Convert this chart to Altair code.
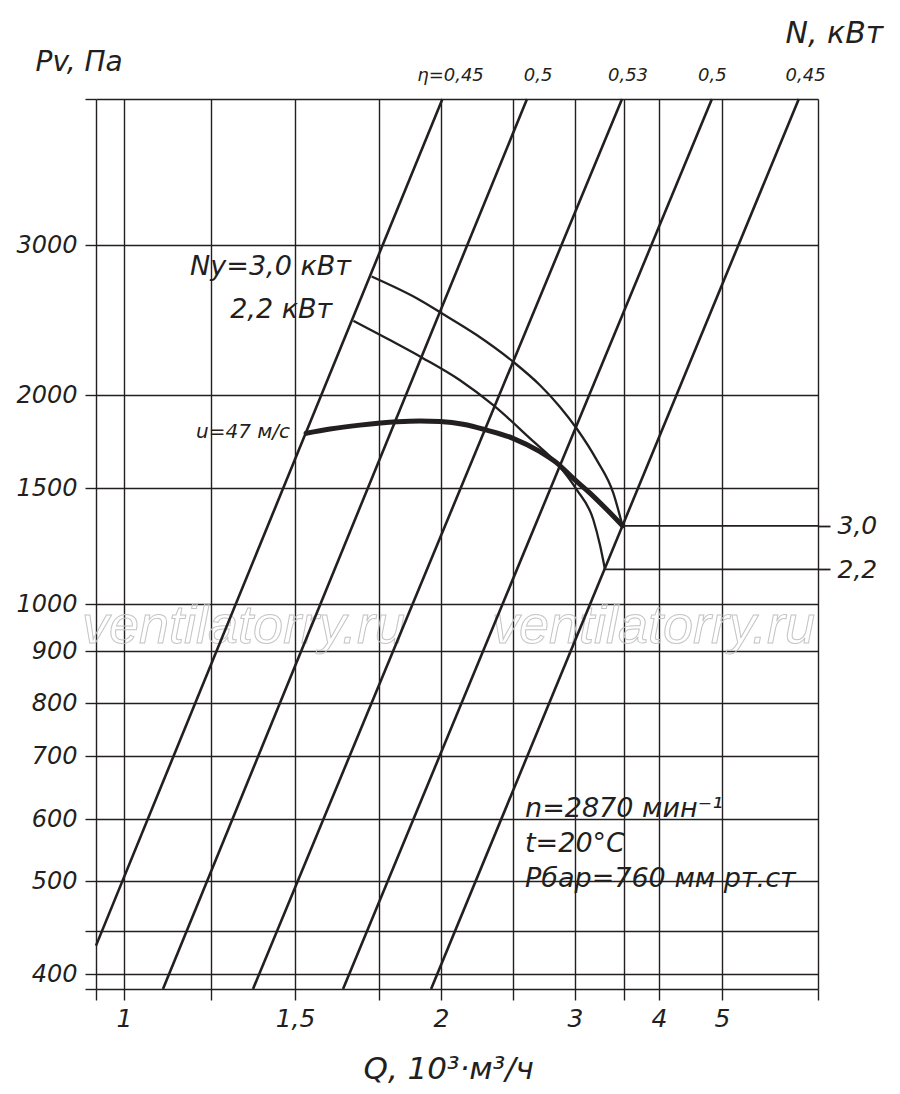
import json
import altair as alt
import pandas as pd

INK = "#231f20"
FONT = "DejaVu Sans"

# ---------------- grid / axis values of the nomogram ----------------
q_grid = [0.9, 1, 1.25, 1.5, 1.75, 2, 2.5, 3, 3.5, 4, 5, 6]
q_labelled = [1, 1.5, 2, 3, 4, 5]
pv_grid = [385, 400, 450, 500, 600, 700, 800, 900, 1000, 1500, 2000, 3000, 4000]
pv_labelled = [400, 500, 600, 700, 800, 900, 1000, 1500, 2000, 3000]

# ---------------- efficiency rays (η) ----------------
eta_q_low = [0.9, 1.112, 1.375, 1.643, 1.96]
eta_pv_low = [433, 385, 385, 385, 385]
eta_q_high = [2.01, 2.613, 3.48, 4.84, 5.80]
eta_pv_high = [4000, 4000, 4000, 4000, 4000]
eta_names = ["η=0,45", "0,5", "0,53", "0,5", "0,45"]
eta_name_q = [2.0625, 2.698, 3.55, 4.84, 5.865]

# ---------------- pressure curve u=47 m/s ----------------
pv_curve_q = [1.533, 1.604, 1.693, 1.823, 1.915, 1.996, 2.153, 2.319, 2.5,
              2.718, 2.855, 2.984, 3.153, 3.327, 3.485]
pv_curve_pv = [1794, 1817, 1838, 1856, 1860, 1857, 1843, 1811, 1767,
               1695, 1634, 1553, 1478, 1406, 1337]

# ---------------- motor power curves ----------------
n30_q = [1.728, 1.808, 1.902, 2.005, 2.248, 2.502, 2.718, 2.879, 3.017, 3.221, 3.391, 3.485]
n30_pv = [2790, 2723, 2645, 2545, 2400, 2221, 2065, 1936, 1820, 1651, 1478, 1337]
n22_q = [1.674, 1.786, 1.929, 2.132, 2.363, 2.637, 2.865, 3.017, 3.187, 3.255, 3.306]
n22_pv = [2495, 2373, 2244, 2098, 1945, 1767, 1624, 1493, 1363, 1254, 1149]

# horizontal leaders to the N scale
n_levels = ["3,0", "2,2"]
n_rule_q_start = [3.485, 3.306]
n_rule_q_end = [6, 6]
n_rule_pv = [1337, 1149]

# ---------------- annotations ----------------
note_text = ["Ny=3,0 кВт", "2,2 кВт", "u=47 м/с", "n=2870 мин⁻¹", "t=20°C", "Рбар=760 мм рт.ст"]
note_q = [1.19, 1.307, 1.207, 2.597, 2.597, 2.597]
note_pv = [2801, 2513, 1769, 603, 546, 494]
note_size = [27, 27, 20, 27, 27, 27]

wm_text = ["ventilatorry.ru", "ventilatorry.ru"]
wm_q = [0.85, 2.354]
wm_pv = [918, 918]

# ---------------- scales (non-uniform printed grid, piecewise) ----------------
x_scale = alt.Scale(domain=q_grid,
                    range=[0, 28, 115, 199, 283, 345, 417, 479, 528, 563, 626, 722],
                    nice=False, zero=False)
y_scale = alt.Scale(domain=pv_grid,
                    range=[890, 875, 832, 782, 720, 657, 604, 552, 505, 389, 296, 146, 0],
                    nice=False, zero=False)

eta_df = pd.DataFrame({"q1": eta_q_low, "p1": eta_pv_low, "q2": eta_q_high, "p2": eta_pv_high})
curve_df = pd.DataFrame({"q": pv_curve_q, "pv": pv_curve_pv})
n_df = pd.concat([
    pd.DataFrame({"q": n30_q, "pv": n30_pv, "n": "3,0"}),
    pd.DataFrame({"q": n22_q, "pv": n22_pv, "n": "2,2"}),
])
nrule_df = pd.DataFrame({"n": n_levels, "q1": n_rule_q_start, "q2": n_rule_q_end, "pv": n_rule_pv})
note_df = pd.DataFrame({"t": note_text, "q": note_q, "pv": note_pv, "fs": note_size})
wm_df = pd.DataFrame({"t": wm_text, "q": wm_q, "pv": wm_pv})

q_label_expr = (f"indexof({json.dumps(q_labelled)}, datum.value) >= 0 ? "
                "replace(toString(datum.value), '.', ',') : ''")
pv_label_expr = (f"indexof({json.dumps(pv_labelled)}, datum.value) >= 0 ? "
                 "toString(datum.value) : ''")
eta_label_expr = (f"{json.dumps(eta_names, ensure_ascii=False)}"
                  f"[indexof({json.dumps(eta_name_q)}, datum.value)]")

common_axis = dict(labelFont=FONT, labelFontStyle="italic", labelColor=INK,
                   labelOverlap=False, labelFlush=False, labelBound=False,
                   titleFont=FONT, titleFontStyle="italic", titleFontWeight="normal",
                   titleColor=INK)

x_bottom = alt.Axis(orient="bottom", values=q_grid, grid=True, gridColor=INK, gridWidth=1.4,
                    gridOpacity=1, domain=False, ticks=True, tickSize=11, tickColor=INK,
                    tickWidth=1.4, labelExpr=q_label_expr, labelFontSize=25, labelPadding=6,
                    title="Q, 10³·м³/ч", titleFontSize=31, titleX=267, titleY=89,
                    titleAlign="left", titleBaseline="alphabetic", **common_axis)
y_left = alt.Axis(orient="left", values=pv_grid, grid=True, gridColor=INK, gridWidth=1.4,
                  gridOpacity=1, domain=False, ticks=True, tickSize=11, tickColor=INK,
                  tickWidth=1.4, labelExpr=pv_label_expr, labelFontSize=24, labelPadding=8,
                  title="Pv, Па", titleFontSize=28, titleAngle=0, titleX=-61, titleY=-29,
                  titleAlign="left", titleBaseline="alphabetic", **common_axis)
x_top = alt.Axis(orient="top", values=eta_name_q, grid=False, domain=False, ticks=False,
                 labelExpr=eta_label_expr, labelFontSize=18, labelPadding=19,
                 labelBaseline="alphabetic", title=None, **common_axis)
y_right = alt.Axis(orient="right", values=n_rule_pv, grid=False, domain=False, ticks=True,
                   tickSize=12, tickColor=INK, tickWidth=1.8,
                   labelExpr="datum.value > 1250 ? '3,0' : '2,2'", labelFontSize=25,
                   labelPadding=7, title="N, кВт", titleFontSize=30, titleAngle=0,
                   titleX=-33, titleY=-57, titleAlign="left", titleBaseline="alphabetic",
                   **common_axis)

watermark = alt.Chart(wm_df).mark_text(
    font="Liberation Sans", fontSize=54, fontStyle="italic", align="left",
    baseline="alphabetic", stroke="#c4c4c4", strokeWidth=1, fillOpacity=0
).encode(x=alt.X("q:Q", scale=x_scale, axis=None), y=alt.Y("pv:Q", scale=y_scale, axis=None),
         text="t:N")

eta_rules = alt.Chart(eta_df).mark_rule(color=INK, strokeWidth=2.6).encode(
    x=alt.X("q1:Q", scale=x_scale, axis=x_bottom),
    x2="q2:Q",
    y=alt.Y("p1:Q", scale=y_scale, axis=y_left),
    y2="p2:Q",
)

n_rules = alt.Chart(nrule_df).mark_rule(color=INK, strokeWidth=1.8).encode(
    x=alt.X("q1:Q", scale=x_scale, axis=None),
    x2="q2:Q",
    y=alt.Y("pv:Q", scale=y_scale, axis=y_right),
)

n_curves = alt.Chart(n_df).mark_line(color=INK, strokeWidth=2.3, interpolate="monotone").encode(
    x=alt.X("q:Q", scale=x_scale, axis=None),
    y=alt.Y("pv:Q", scale=y_scale, axis=None),
    detail="n:N",
)

pv_line = alt.Chart(curve_df).mark_line(color=INK, strokeWidth=5, strokeCap="round",
                                        interpolate="monotone").encode(
    x=alt.X("q:Q", scale=x_scale, axis=None),
    y=alt.Y("pv:Q", scale=y_scale, axis=None),
)

notes = alt.Chart(note_df).mark_text(
    font=FONT, fontStyle="italic", align="left", baseline="alphabetic", color=INK
).encode(
    x=alt.X("q:Q", scale=x_scale, axis=x_top),
    y=alt.Y("pv:Q", scale=y_scale, axis=None),
    text="t:N",
    size=alt.Size("fs:Q", scale=None),
)

chart = alt.layer(watermark, eta_rules, n_rules, n_curves, pv_line, notes).resolve_axis(
    x="independent", y="independent"
).properties(
    width=722, height=890,
    padding={"left": 88, "top": 91, "right": 72, "bottom": 98},
    autosize=alt.AutoSizeParams(type="none"),
    background="white",
).configure_view(strokeWidth=0)

chart.save("out.html", embed_options={"renderer": "svg", "actions": False})
